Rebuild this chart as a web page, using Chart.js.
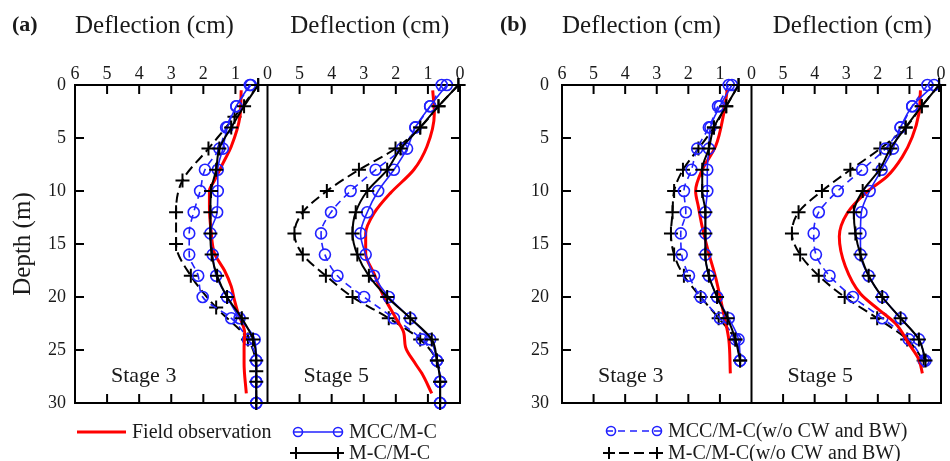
<!DOCTYPE html>
<html>
<head>
<meta charset="utf-8">
<script src="https://cdn.jsdelivr.net/npm/chart.js@4.4.1/dist/chart.umd.min.js"></script>
<style>
  html, body { margin: 0; padding: 0; background: #fff; }
  #wrap { position: relative; width: 950px; height: 461px; }
  .panel { position: absolute; top: 0; height: 461px; }
  #pa { left: 0; width: 480px; }
  #pb { left: 480px; width: 470px; }
</style>
</head>
<body>
<div id="wrap">
  <div class="panel" id="pa"><canvas id="chartA"></canvas></div>
  <div class="panel" id="pb"><canvas id="chartB"></canvas></div>
</div>
<script>
// tick labels
const xTickValues = [6, 5, 4, 3, 2, 1, 0];
const yTickValues = [0, 5, 10, 15, 20, 25, 30];

// depths (m) of the computed points
const depth2m = [0, 2, 4, 6, 8, 10, 12, 14, 16, 18, 20, 22, 24, 26, 28, 30];
const depth3m = [0, 3, 6, 9, 12, 15, 18, 21, 24, 27, 30];
const depth2mTo26 = [0, 2, 4, 6, 8, 10, 12, 14, 16, 18, 20, 22, 24, 26];

// (a) stage 3, deflection (cm)
const aS3FieldDepth = [0.5, 3, 5.8, 7.4, 9, 10, 11.5, 13.7, 15.9, 17.5, 19, 20.3, 21.5, 23.4, 24.7, 26.3, 29.1];
const aS3Field = [0.82, 0.86, 1.13, 1.39, 1.65, 1.81, 1.81, 1.76, 1.65, 1.34, 1.13, 1.03, 0.92, 0.71, 0.73, 0.73, 0.66];
const aS3Mcc = [0.55, 0.97, 1.25, 1.39, 1.55, 1.55, 1.57, 1.78, 1.71, 1.6, 1.26, 0.87, 0.4, 0.35, 0.35, 0.35];
const aS3Mc = [0.29, 0.73, 1.13, 1.5, 1.6, 1.76, 1.78, 1.78, 1.74, 1.57, 1.26, 0.8, 0.45, 0.35, 0.35, 0.35];
const aS3MccWo = [0.52, 0.97, 1.29, 1.5, 1.95, 2.1, 2.3, 2.44, 2.44, 2.16, 2.02, 1.13, 0.61, 0.35, 0.35, 0.35];
const aS3McWo = [0.29, 1.03, 1.84, 2.65, 2.85, 2.85, 2.39, 1.6, 0.61, 0.35, 0.35];

// (a) stage 5
const aS5FieldDepth = [0.5, 2.7, 5.8, 8, 10.2, 12.1, 14, 15.9, 17.8, 20, 22.2, 23.4, 24.7, 26.3, 27.2, 29.1];
const aS5Field = [0.85, 0.8, 1.03, 1.44, 2.17, 2.68, 2.94, 2.94, 2.68, 2.37, 1.96, 1.75, 1.7, 1.39, 1.19, 0.88];
const aS5Mcc = [0.41, 0.93, 1.39, 1.65, 2.06, 2.55, 2.89, 3.1, 2.94, 2.68, 2.22, 1.55, 0.93, 0.72, 0.62, 0.62];
const aS5Mc = [0.05, 0.67, 1.24, 1.85, 2.27, 2.89, 3.25, 3.35, 3.2, 2.84, 2.27, 1.55, 0.88, 0.72, 0.62, 0.62];
const aS5MccWo = [0.57, 0.93, 1.39, 1.81, 2.63, 3.41, 4.02, 4.33, 4.21, 3.82, 2.99, 2.06, 1.19, 0.72, 0.62, 0.62];
const aS5McWo = [0.05, 0.67, 1.24, 2.01, 3.15, 4.15, 4.9, 5.16, 4.9, 4.18, 3.35, 2.22, 1.24, 0.72, 0.62, 0.62];

// (b) stage 3
const bS3FieldDepth = [0.5, 2.7, 5.8, 8, 10, 11.5, 13.4, 15.9, 18.1, 20.9, 24, 27.2];
const bS3Field = [0.77, 0.88, 1.14, 1.56, 1.77, 1.68, 1.56, 1.35, 1.14, 0.93, 0.72, 0.67];
const bS3Mcc = [0.62, 1.0, 1.3, 1.35, 1.4, 1.4, 1.46, 1.46, 1.46, 1.35, 1.09, 0.72, 0.41, 0.36];
const bS3Mc = [0.41, 0.8, 1.19, 1.35, 1.56, 1.56, 1.46, 1.46, 1.46, 1.35, 1.09, 0.76, 0.51, 0.36];
const bS3MccWo = [0.72, 1.06, 1.35, 1.72, 1.9, 2.14, 2.08, 2.24, 2.21, 1.98, 1.61, 1.0, 0.51, 0.36];
const bS3McWo = [0.41, 0.8, 1.19, 1.68, 2.17, 2.45, 2.5, 2.55, 2.45, 2.14, 1.61, 1.04, 0.51, 0.36];

// (b) stage 5
const bS5FieldDepth = [0.5, 2.7, 4.9, 6.8, 8.6, 10.2, 12.1, 14.3, 17.1, 19.7, 21.2, 22.5, 24.4, 25.9, 27.2];
const bS5Field = [0.65, 0.7, 0.91, 1.23, 1.7, 2.39, 2.97, 3.22, 3.03, 2.55, 1.97, 1.44, 1.02, 0.7, 0.59];
const bS5Mcc = [0.22, 0.91, 1.28, 1.52, 1.88, 2.26, 2.52, 2.55, 2.55, 2.29, 1.86, 1.28, 0.7, 0.49];
const bS5Mc = [0.06, 0.61, 1.12, 1.6, 1.95, 2.48, 2.76, 2.71, 2.55, 2.29, 1.86, 1.28, 0.7, 0.49];
const bS5MccWo = [0.43, 0.91, 1.28, 1.76, 2.5, 3.27, 3.87, 4.03, 3.96, 3.53, 2.79, 1.86, 1.02, 0.55];
const bS5McWo = [0.06, 0.61, 1.12, 1.92, 2.87, 3.77, 4.51, 4.72, 4.46, 3.87, 3.05, 2.02, 1.07, 0.55];

const SERIF = "'Liberation Serif', 'Times New Roman', serif";
const BLUE = '#2222ff';
const RED = '#ff0000';
const INK = '#1a1a1a';

Chart.defaults.font.family = SERIF;
Chart.defaults.color = INK;

const styles = {
  field: { borderColor: RED, borderWidth: 3, pointRadius: 0, cubicInterpolationMode: 'monotone' },
  mcc: { borderColor: BLUE, borderWidth: 1.6, pointStyle: 'circle', pointRadius: 5.5,
    pointBorderColor: BLUE, pointBackgroundColor: 'rgba(0,0,0,0)', pointBorderWidth: 1.6,
    cubicInterpolationMode: 'monotone' },
  mc: { borderColor: '#000', borderWidth: 2, pointStyle: 'cross', pointRadius: 7,
    pointBorderColor: '#000', pointBorderWidth: 2, cubicInterpolationMode: 'monotone' }
};
styles.mccWo = Object.assign({}, styles.mcc, { borderDash: [7, 5] });
styles.mcWo = Object.assign({}, styles.mc, { borderDash: [10, 5] });

function ds(label, xId, depths, values, style) {
  return Object.assign({
    label: label,
    xAxisID: xId,
    yAxisID: 'y',
    clip: false,
    data: depths.map((d, i) => ({ x: values[i], y: d }))
  }, style);
}

// two deflection axes side by side on top (stacked horizontally)
function xAxis(showSix, weight) {
  return {
    type: 'linear', position: 'top', stack: 'defl', stackWeight: 1, weight: weight,
    min: 0, max: 6, reverse: true,
    grid: { display: false, drawTicks: false }, border: { display: false },
    afterBuildTicks: s => { s.ticks = xTickValues.map(v => ({ value: v })); },
    ticks: {
      autoSkip: false, maxRotation: 0, padding: 0, font: { size: 18 }, color: INK,
      callback: v => (!showSix && v === 6) ? '' : String(v)
    },
    title: { display: false },
    afterFit: s => { s.height = 85; }
  };
}

function yAxis(width, showTitle) {
  return {
    type: 'linear', position: 'left', min: 0, max: 30, reverse: true,
    grid: { display: false, drawTicks: false }, border: { display: false },
    afterBuildTicks: s => { s.ticks = yTickValues.map(v => ({ value: v })); },
    ticks: { padding: showTitle ? 9 : 13, font: { size: 18 }, color: INK },
    title: { display: showTitle, text: 'Depth (m)', font: { size: 25 }, color: INK,
      padding: { top: 8, bottom: 0 } },
    afterFit: s => { s.width = width; }
  };
}

function strokeLine(ctx, x1, y1, x2, y2) {
  ctx.beginPath(); ctx.moveTo(x1, y1); ctx.lineTo(x2, y2); ctx.stroke();
}

function marker(ctx, kind, x, y) {
  ctx.save();
  ctx.setLineDash([]);
  if (kind === 'circle') {
    ctx.strokeStyle = BLUE; ctx.lineWidth = 1.6;
    ctx.beginPath(); ctx.arc(x, y, 4.5, 0, Math.PI * 2); ctx.stroke();
  } else if (kind === 'cross') {
    ctx.strokeStyle = '#000'; ctx.lineWidth = 2;
    strokeLine(ctx, x - 6, y, x + 6, y);
    strokeLine(ctx, x, y - 6, x, y + 6);
  }
  ctx.restore();
}

const decoPlugin = {
  id: 'deco',
  beforeDatasetsDraw(chart, args, opts) {
    const { ctx, chartArea: a, scales } = chart;
    const tl = 9;
    ctx.save();
    ctx.strokeStyle = '#000';
    ctx.lineWidth = 2;
    ctx.strokeRect(a.left, a.top, a.right - a.left, a.bottom - a.top);
    const mid = scales.x3.getPixelForValue(0);
    strokeLine(ctx, mid, a.top, mid, a.bottom);
    yTickValues.slice(1, -1).forEach(v => {
      const py = scales.y.getPixelForValue(v);
      strokeLine(ctx, a.left, py, a.left + tl, py);
      strokeLine(ctx, a.right, py, a.right - tl, py);
    });
    [scales.x3, scales.x5].forEach(s => {
      xTickValues.slice(1, -1).forEach(v => {
        const px = s.getPixelForValue(v);
        strokeLine(ctx, px, a.top, px, a.top + tl);
        strokeLine(ctx, px, a.bottom, px, a.bottom - tl);
      });
    });
    ctx.restore();
  },
  afterDraw(chart, args, opts) {
    const { ctx, chartArea: a, scales } = chart;
    ctx.save();
    ctx.fillStyle = INK;
    ctx.textBaseline = 'middle';
    ctx.font = 'bold 22px ' + SERIF;
    ctx.fillText(opts.panel, opts.panelX, 25);

    // axis titles above each deflection axis
    ctx.font = '25px ' + SERIF;
    ctx.textAlign = 'left';
    ctx.fillText('Deflection (cm)', scales.x3.left, 26);
    ctx.textAlign = 'center';
    ctx.fillText('Deflection (cm)', (scales.x5.left + scales.x5.right) / 2 + 6, 26);
    ctx.textAlign = 'left';

    ctx.font = '22px ' + SERIF;
    ctx.textBaseline = 'alphabetic';
    ctx.fillText('Stage 3', scales.x3.left + 36, a.bottom - 21);
    ctx.fillText('Stage 5', scales.x5.left + 36, a.bottom - 21);

    ctx.font = '20px ' + SERIF;
    ctx.textBaseline = 'middle';
    opts.legend.forEach(it => {
      const st = styles[it.kind];
      ctx.save();
      ctx.strokeStyle = st.borderColor;
      ctx.lineWidth = st.borderWidth;
      ctx.setLineDash(st.borderDash || []);
      strokeLine(ctx, it.x1, it.y, it.x2, it.y);
      ctx.restore();
      if (st.pointRadius) {
        marker(ctx, st.pointStyle, it.x1 + 5, it.y);
        marker(ctx, st.pointStyle, it.x2 - 5, it.y);
      }
      ctx.fillStyle = INK;
      ctx.fillText(it.text, it.x2 + 6, it.y + 1);
    });
    ctx.restore();
  }
};

function makeChart(id, datasets, yWidth, padRight, showYTitle, deco) {
  return new Chart(document.getElementById(id), {
    type: 'line',
    data: { datasets: datasets },
    plugins: [decoPlugin],
    options: {
      indexAxis: 'y',
      responsive: true,
      maintainAspectRatio: false,
      animation: false,
      events: [],
      layout: { padding: { top: 0, left: 0, right: padRight, bottom: 58 } },
      scales: {
        x3: xAxis(true, 1),
        x5: xAxis(false, 0),
        y: yAxis(yWidth, showYTitle)
      },
      plugins: {
        legend: { display: false },
        tooltip: { enabled: false },
        deco: deco
      }
    }
  });
}

makeChart('chartA', [
  ds('M-C/M-C', 'x3', depth2m, aS3Mc, styles.mc),
  ds('MCC/M-C', 'x3', depth2m, aS3Mcc, styles.mcc),
  ds('Field observation', 'x3', aS3FieldDepth, aS3Field, styles.field),
  ds('MCC/M-C(w/o CW and BW)', 'x3', depth2m, aS3MccWo, styles.mccWo),
  ds('M-C/M-C(w/o CW and BW)', 'x3', depth3m, aS3McWo, styles.mcWo),
  ds('M-C/M-C', 'x5', depth2m, aS5Mc, styles.mc),
  ds('MCC/M-C', 'x5', depth2m, aS5Mcc, styles.mcc),
  ds('Field observation', 'x5', aS5FieldDepth, aS5Field, styles.field),
  ds('MCC/M-C(w/o CW and BW)', 'x5', depth2m, aS5MccWo, styles.mccWo),
  ds('M-C/M-C(w/o CW and BW)', 'x5', depth2m, aS5McWo, styles.mcWo)
], 75, 20, true, {
  panel: '(a)', panelX: 12,
  legend: [
    { kind: 'field', x1: 77, x2: 126, y: 432, text: 'Field observation' },
    { kind: 'mcc', x1: 293, x2: 343, y: 432, text: 'MCC/M-C' },
    { kind: 'mc', x1: 291, x2: 343, y: 453, text: 'M-C/M-C' }
  ]
});

makeChart('chartB', [
  ds('M-C/M-C', 'x3', depth2mTo26, bS3Mc, styles.mc),
  ds('MCC/M-C', 'x3', depth2mTo26, bS3Mcc, styles.mcc),
  ds('Field observation', 'x3', bS3FieldDepth, bS3Field, styles.field),
  ds('MCC/M-C(w/o CW and BW)', 'x3', depth2mTo26, bS3MccWo, styles.mccWo),
  ds('M-C/M-C(w/o CW and BW)', 'x3', depth2mTo26, bS3McWo, styles.mcWo),
  ds('M-C/M-C', 'x5', depth2mTo26, bS5Mc, styles.mc),
  ds('MCC/M-C', 'x5', depth2mTo26, bS5Mcc, styles.mcc),
  ds('Field observation', 'x5', bS5FieldDepth, bS5Field, styles.field),
  ds('MCC/M-C(w/o CW and BW)', 'x5', depth2mTo26, bS5MccWo, styles.mccWo),
  ds('M-C/M-C(w/o CW and BW)', 'x5', depth2mTo26, bS5McWo, styles.mcWo)
], 82, 8, false, {
  panel: '(b)', panelX: 20,
  legend: [
    { kind: 'mccWo', x1: 126, x2: 182, y: 431, text: 'MCC/M-C(w/o CW and BW)' },
    { kind: 'mcWo', x1: 124, x2: 182, y: 453, text: 'M-C/M-C(w/o CW and BW)' }
  ]
});
</script>
</body>
</html>
